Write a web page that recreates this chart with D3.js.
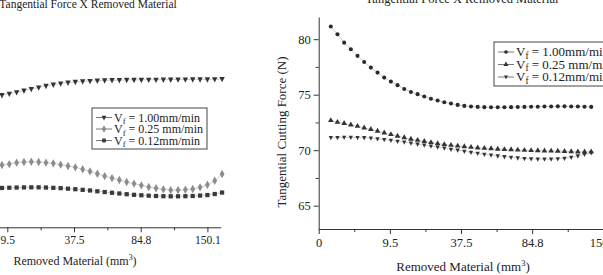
<!DOCTYPE html>
<html>
<head>
<meta charset="utf-8">
<script src="https://cdn.jsdelivr.net/npm/d3@7"></script>
<style>
  html, body { margin: 0; padding: 0; background: #fff; overflow: hidden; }
  svg { display: block; font-family: "Liberation Serif", "Times New Roman", serif; }
</style>
</head>
<body>
<svg id="chart" width="603" height="275"></svg>
<script>
// Labels printed under the major ticks of both x axes (equally spaced)
const xTickLabels = ["0", "9.5", "37.5", "84.8", "150.1"];

// Major ticks of the right y axis
const yTicksRight = [65, 70, 75, 80];

// Left panel, tangential force (N)
const leftVf100 = [75.67, 75.80, 75.94, 76.10, 76.25, 76.40, 76.55, 76.67, 76.78, 76.86,
  76.93, 76.99, 77.02, 77.05, 77.08, 77.10, 77.11, 77.12, 77.13, 77.13,
  77.14, 77.14, 77.15, 77.15, 77.16, 77.16, 77.17, 77.17, 77.18, 77.19, 77.21];
const leftVf025 = [68.97, 69.06, 69.19, 69.26, 69.28, 69.26, 69.19, 69.13, 69.00, 68.87,
  68.75, 68.56, 68.36, 68.13, 67.91, 67.72, 67.53, 67.34, 67.18, 67.02,
  66.86, 66.74, 66.64, 66.57, 66.57, 66.60, 66.67, 66.83, 67.08, 67.46, 68.11];
const leftVf012 = [66.77, 66.79, 66.81, 66.82, 66.83, 66.83, 66.81, 66.78, 66.75, 66.70,
  66.65, 66.59, 66.53, 66.45, 66.38, 66.31, 66.24, 66.17, 66.11, 66.07,
  66.03, 66.00, 65.98, 65.97, 65.97, 65.98, 66.00, 66.04, 66.09, 66.19, 66.33];

// Right panel, tangential cutting force (N)
const rightVf100 = [81.14, 80.45, 79.69, 79.10, 78.50, 77.95, 77.44, 76.99, 76.54, 76.18,
  75.86, 75.52, 75.25, 75.05, 74.83, 74.63, 74.47, 74.32, 74.20, 74.08,
  73.99, 73.93, 73.90, 73.88, 73.87, 73.87, 73.87, 73.88, 73.89, 73.90,
  73.91, 73.92, 73.93, 73.94, 73.95, 73.95, 73.94, 73.93, 73.92, 73.90];
const rightVf025 = [72.68, 72.52, 72.42, 72.28, 72.16, 72.02, 71.88, 71.72, 71.56, 71.42,
  71.28, 71.14, 71.00, 70.90, 70.80, 70.70, 70.60, 70.52, 70.45, 70.38,
  70.32, 70.27, 70.22, 70.18, 70.14, 70.10, 70.07, 70.05, 70.02, 70.00,
  69.98, 69.96, 69.95, 69.93, 69.92, 69.90, 69.88, 69.86, 69.85, 69.85];
const rightVf012 = [71.13, 71.14, 71.15, 71.15, 71.14, 71.12, 71.08, 71.02, 70.95, 70.88,
  70.80, 70.72, 70.63, 70.54, 70.45, 70.36, 70.27, 70.18, 70.08, 70.00,
  69.90, 69.80, 69.72, 69.63, 69.55, 69.48, 69.41, 69.35, 69.30, 69.25,
  69.22, 69.20, 69.19, 69.20, 69.22, 69.27, 69.35, 69.48, 69.62, 69.76];

// Legend texts (after the "Vf" symbol)
const legendLeft = ["= 1.00mm/min", "= 0.25 mm/min", "= 0.12mm/min"];
const legendRight = ["= 1.00mm/min", "= 0.25 mm/min", "= 0.12mm/min"];

const title = "Tangential Force X Removed Material";
const xTitle = "Removed Material (mm";
const yTitle = "Tangential Cutting Force (N)";

const serif = '"Liberation Serif", "Times New Roman", serif';
const svg = d3.select("#chart");

// Custom symbol: downward triangle
const triDown = {
  draw(ctx, size) {
    const h = Math.sqrt(size * 1.3);
    ctx.moveTo(-h / 2, -h / 2.6);
    ctx.lineTo(h / 2, -h / 2.6);
    ctx.lineTo(0, h / 1.6);
    ctx.closePath();
  }
};

// Give an axis group the look of the figure (serif labels, dark strokes)
function styleAxis(sel, font) {
  sel.attr("font-family", serif).attr("font-size", font);
  sel.selectAll("text").attr("fill", "#222");
  sel.selectAll("line,path").attr("stroke", "#333");
}

function drawPanel(p) {
  const g = svg.append("g");

  // x runs in "tick units": 0..4 equal the five labelled ticks
  const x = d3.scaleLinear().domain([0, 4.2]).range(p.xRange);
  const y = d3.scaleLinear().domain(p.yDomain).range(p.yRange);

  // Major and minor ticks on the x axis
  const ax = g.append("g").attr("transform", `translate(0,${p.yRange[0]})`);
  ax.call(d3.axisBottom(x).tickValues([0, 1, 2, 3, 4])
      .tickFormat((d) => xTickLabels[d]).tickSize(5).tickSizeOuter(0).tickPadding(4));
  const axMinor = ax.append("g").call(d3.axisBottom(x).tickValues([0.5, 1.5, 2.5, 3.5])
      .tickFormat("").tickSize(3).tickSizeOuter(0));
  axMinor.select(".domain").remove();
  styleAxis(ax, p.font);

  // Optional y axis (only the right panel shows it)
  if (p.yTicks) {
    const ay = g.append("g").attr("transform", `translate(${p.xRange[0]},0)`);
    ay.call(d3.axisLeft(y).tickValues(p.yTicks).tickSize(5).tickSizeOuter(0).tickPadding(3));
    const ayMinor = ay.append("g").call(d3.axisLeft(y)
        .tickValues(p.yTicks.map((v) => v + 2.5).filter((v) => v < p.yDomain[1]))
        .tickFormat("").tickSize(3).tickSizeOuter(0));
    ayMinor.select(".domain").remove();
    styleAxis(ay, p.font);
  }

  // Series: faint connecting line plus markers
  for (const s of p.series) {
    const pos = d3.scaleLinear().domain([0, s.values.length - 1]).range(p.sampleSpan);
    const pts = s.values.map((v, i) => [x(pos(i)), y(v)]);

    g.append("path")
      .attr("d", d3.line()(pts))
      .attr("fill", "none")
      .attr("stroke", "#aaa")
      .attr("stroke-width", 0.6);

    g.append("g").selectAll("path")
      .data(pts)
      .join("path")
      .attr("transform", (d) => `translate(${d[0]},${d[1]})`)
      .attr("d", d3.symbol(s.symbol, s.size))
      .attr("fill", s.color);
  }

  // Legend box
  const lg = g.append("g").attr("transform", `translate(${p.legend.x},${p.legend.y})`);
  lg.append("rect")
    .attr("width", p.legend.w).attr("height", p.legend.h)
    .attr("fill", "#fff").attr("stroke", "#444").attr("stroke-width", 1);
  p.series.forEach((s, i) => {
    const ry = p.legend.row0 + i * p.legend.step;
    lg.append("line").attr("x1", 4).attr("x2", 20).attr("y1", ry).attr("y2", ry)
      .attr("stroke", "#555").attr("stroke-width", 0.8);
    lg.append("path").attr("transform", `translate(12,${ry})`)
      .attr("d", d3.symbol(s.symbol, s.size * 0.8)).attr("fill", s.color);
    const t = lg.append("text").attr("x", 22).attr("y", ry + 4)
      .attr("font-size", p.legend.font).attr("fill", "#222");
    t.append("tspan").text("V");
    t.append("tspan").attr("dy", 2.5).attr("font-size", p.legend.font * 0.72).text("f");
    t.append("tspan").attr("dy", -2.5).text(" " + s.label);
  });

  // Panel title
  g.append("text")
    .attr("x", p.title.x).attr("y", p.title.y)
    .attr("text-anchor", "middle").attr("font-size", p.title.font).attr("fill", "#222")
    .text(title);

  // x axis title with superscript
  const xt = g.append("text")
    .attr("x", p.xTitle.x).attr("y", p.xTitle.y)
    .attr("text-anchor", "middle").attr("font-size", p.xTitle.font).attr("fill", "#222");
  xt.append("tspan").text(xTitle);
  xt.append("tspan").attr("dy", -5).attr("font-size", p.xTitle.font * 0.65).text("3");
  xt.append("tspan").attr("dy", 5).text(")");

  if (p.yTitle) {
    g.append("text")
      .attr("transform", `translate(${p.yTitle.x},${p.yTitle.y}) rotate(-90)`)
      .attr("text-anchor", "middle").attr("font-size", p.yTitle.font).attr("fill", "#222")
      .text(yTitle);
  }
}

// Left panel (cut off on the left side of the picture)
drawPanel({
  xRange: [-59.4, -59.4 + 4.2 * 66.7],
  yDomain: [63, 82],
  yRange: [227.3, 29],
  font: 11.5,
  sampleSpan: [0.92, 4.22],
  series: [
    { values: leftVf100, symbol: triDown, size: 22, color: "#333", label: legendLeft[0] },
    { values: leftVf025, symbol: d3.symbolDiamond, size: 20, color: "#8c8c8c", label: legendLeft[1] },
    { values: leftVf012, symbol: d3.symbolSquare, size: 18, color: "#3a3a3a", label: legendLeft[2] },
  ],
  legend: { x: 92, y: 108, w: 115, h: 41, row0: 9.5, step: 11.5, font: 12 },
  title: { x: 88, y: 8, font: 11.5 },
  xTitle: { x: 75, y: 265, font: 12 },
});

// Right panel
drawPanel({
  xRange: [318.7, 318.7 + 4.2 * 71.15],
  yDomain: [62.9, 82],
  yRange: [229, 17],
  yTicks: yTicksRight,
  font: 12.5,
  sampleSpan: [0.17, 3.83],
  series: [
    { values: rightVf100, symbol: d3.symbolCircle, size: 13, color: "#2a2a2a", label: legendRight[0] },
    { values: rightVf025, symbol: d3.symbolTriangle, size: 14, color: "#333", label: legendRight[1] },
    { values: rightVf012, symbol: triDown, size: 14, color: "#333", label: legendRight[2] },
  ],
  legend: { x: 494, y: 42, w: 140, h: 44, row0: 10, step: 12.5, font: 13 },
  title: { x: 462, y: 3, font: 12.5 },
  xTitle: { x: 463, y: 271, font: 13 },
  yTitle: { x: 286, y: 132, font: 13 },
});
</script>
</body>
</html>
